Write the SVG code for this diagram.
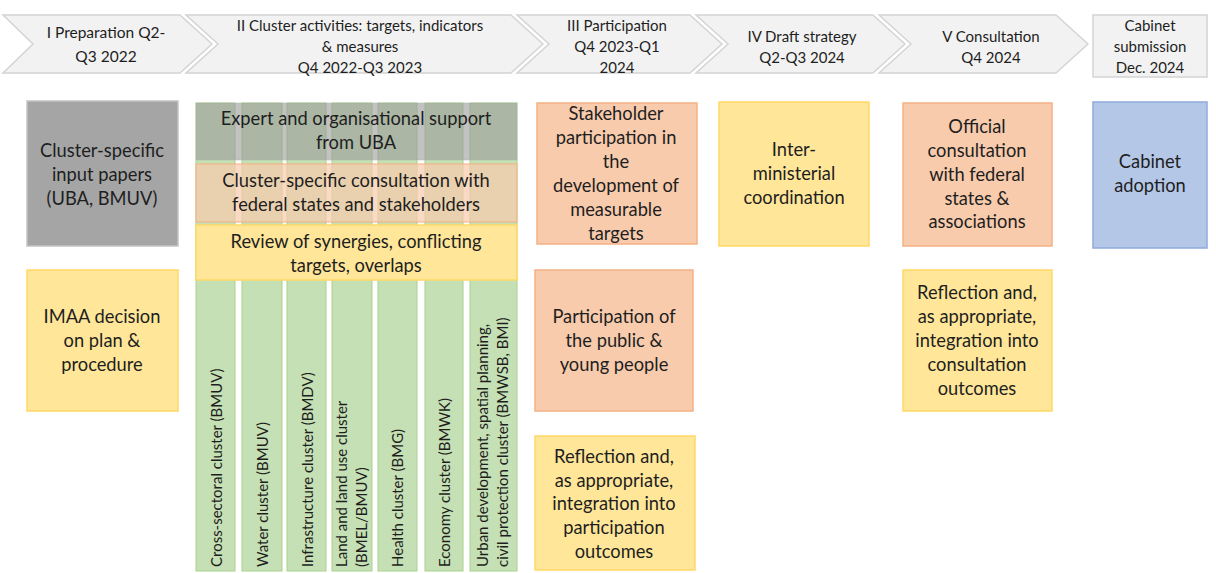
<svg xmlns="http://www.w3.org/2000/svg" width="1216" height="573" viewBox="0 0 1216 573">
  <style>
    text { font-family: Lato, "Liberation Sans", sans-serif; fill: #1e1e1e; }
    .phase { fill: #F2F2F2; stroke: #D4D4D4; stroke-width: 1.5; }
    .ph { font-size: 15px; text-anchor: middle; }
    .bx { font-size: 18.3px; text-anchor: middle; }
    .vt { font-size: 15px; }
    .col { fill: #C5E0B4; stroke: #A9D18E; stroke-width: 1; }
    .grey { fill: #A5A5A5; stroke: #C4C4C4; stroke-width: 1.5; }
    .greyband { fill: #999999; fill-opacity: 0.6; stroke: #B0B8AC; stroke-opacity: 0.5; stroke-width: 1; }
    .peachband { fill: #F8CBAD; fill-opacity: 0.7; stroke: #F4B183; stroke-opacity: 0.7; stroke-width: 1.5; }
    .yellow { fill: #FFE699; stroke: #FFD966; stroke-width: 1.5; }
    .peach { fill: #F8CBAD; stroke: #F4B183; stroke-width: 1.5; }
    .blue { fill: #B4C7E7; stroke: #8FAADC; stroke-width: 1.5; }
  </style>

  <!-- Timeline phases -->
  <g id="phase-1">
    <path class="phase" d="M3,15 L180,15 L212,44 L180,73 L3,73 L33,44 Z"/>
    <text class="ph" x="106" y="38" style="font-size:15.5px">I Preparation Q2-</text>
    <text class="ph" x="106" y="62" style="font-size:15.5px">Q3 2022</text>
  </g>
  <g id="phase-2">
    <path class="phase" d="M186,15 L511,15 L543,44 L511,73 L186,73 L218,44 Z"/>
    <text class="ph" x="360" y="31">II Cluster activities: targets, indicators</text>
    <text class="ph" x="360" y="52">&amp; measures</text>
    <text class="ph" x="360" y="73">Q4 2022-Q3 2023</text>
  </g>
  <g id="phase-3">
    <path class="phase" d="M517,15 L690,15 L722,44 L690,73 L517,73 L549,44 Z"/>
    <text class="ph" x="617" y="31">III Participation</text>
    <text class="ph" x="617" y="52">Q4 2023-Q1</text>
    <text class="ph" x="617" y="73">2024</text>
  </g>
  <g id="phase-4">
    <path class="phase" d="M696,15 L873,15 L905,44 L873,73 L696,73 L728,44 Z"/>
    <text class="ph" x="802" y="42">IV Draft strategy</text>
    <text class="ph" x="802" y="63">Q2-Q3 2024</text>
  </g>
  <g id="phase-5">
    <path class="phase" d="M879,15 L1056,15 L1088,44 L1056,73 L879,73 L911,44 Z"/>
    <text class="ph" x="991" y="42">V Consultation</text>
    <text class="ph" x="991" y="63">Q4 2024</text>
  </g>
  <g id="phase-6">
    <rect class="phase" x="1093" y="15" width="114" height="62"/>
    <text class="ph" x="1150" y="31">Cabinet</text>
    <text class="ph" x="1150" y="52">submission</text>
    <text class="ph" x="1150" y="73">Dec. 2024</text>
  </g>

  <!-- Phase I -->
  <g id="input-papers">
    <rect class="grey" x="27" y="101" width="151" height="145"/>
    <text class="bx" x="102" y="157">Cluster-specific</text>
    <text class="bx" x="102" y="181">input papers</text>
    <text class="bx" x="102" y="205">(UBA, BMUV)</text>
  </g>
  <g id="imaa-decision">
    <rect class="yellow" x="27" y="270" width="151" height="141"/>
    <text class="bx" x="102" y="323">IMAA decision</text>
    <text class="bx" x="102" y="347">on plan &amp;</text>
    <text class="bx" x="102" y="371">procedure</text>
  </g>

  <!-- Phase II: cluster columns -->
  <g id="clusters">
    <g id="cluster-cross-sectoral">
      <rect class="col" x="196" y="103" width="39" height="468"/>
      <text class="vt" x="222" y="567" transform="rotate(-90 222 567)">Cross-sectoral cluster (BMUV)</text>
    </g>
    <g id="cluster-water">
      <rect class="col" x="242" y="103" width="40" height="468"/>
      <text class="vt" x="268" y="567" transform="rotate(-90 268 567)">Water cluster (BMUV)</text>
    </g>
    <g id="cluster-infrastructure">
      <rect class="col" x="287" y="103" width="39" height="468"/>
      <text class="vt" x="313" y="567" transform="rotate(-90 313 567)">Infrastructure cluster (BMDV)</text>
    </g>
    <g id="cluster-land">
      <rect class="col" x="332" y="103" width="40" height="468"/>
      <text class="vt" x="347" y="567" transform="rotate(-90 347 567)">Land and land use cluster</text>
      <text class="vt" x="367" y="567" transform="rotate(-90 367 567)">(BMEL/BMUV)</text>
    </g>
    <g id="cluster-health">
      <rect class="col" x="378" y="103" width="39" height="468"/>
      <text class="vt" x="403" y="567" transform="rotate(-90 403 567)">Health cluster (BMG)</text>
    </g>
    <g id="cluster-economy">
      <rect class="col" x="425" y="103" width="38" height="468"/>
      <text class="vt" x="450" y="567" transform="rotate(-90 450 567)">Economy cluster (BMWK)</text>
    </g>
    <g id="cluster-urban">
      <rect class="col" x="470" y="103" width="47" height="468"/>
      <text class="vt" x="488" y="567" transform="rotate(-90 488 567)">Urban development, spatial planning,</text>
      <text class="vt" x="508" y="567" transform="rotate(-90 508 567)">civil protection cluster (BMWSB, BMI)</text>
    </g>
  </g>

  <!-- Phase II: cross-cutting bands over the columns -->
  <g id="uba-support">
    <rect class="greyband" x="196" y="103" width="321" height="57"/>
    <text class="bx" x="356" y="125">Expert and organisational support</text>
    <text class="bx" x="356" y="149">from UBA</text>
  </g>
  <g id="cluster-consultation">
    <rect class="peachband" x="196" y="164" width="321" height="58"/>
    <text class="bx" x="356" y="187">Cluster-specific consultation with</text>
    <text class="bx" x="356" y="211">federal states and stakeholders</text>
  </g>
  <g id="synergy-review">
    <rect class="yellow" x="196" y="225" width="321" height="55"/>
    <text class="bx" x="356" y="248">Review of synergies, conflicting</text>
    <text class="bx" x="356" y="272">targets, overlaps</text>
  </g>

  <!-- Phase III -->
  <g id="stakeholder-participation">
    <rect class="peach" x="537" y="103" width="160" height="141"/>
    <text class="bx" x="616" y="120">Stakeholder</text>
    <text class="bx" x="616" y="144">participation in</text>
    <text class="bx" x="616" y="168">the</text>
    <text class="bx" x="616" y="192">development of</text>
    <text class="bx" x="616" y="216">measurable</text>
    <text class="bx" x="616" y="240">targets</text>
  </g>
  <g id="public-participation">
    <rect class="peach" x="535" y="270" width="158" height="141"/>
    <text class="bx" x="614" y="323">Participation of</text>
    <text class="bx" x="614" y="347">the public &amp;</text>
    <text class="bx" x="614" y="371">young people</text>
  </g>
  <g id="participation-reflection">
    <rect class="yellow" x="535" y="436" width="160" height="134"/>
    <text class="bx" x="614" y="463">Reflection and,</text>
    <text class="bx" x="614" y="487">as appropriate,</text>
    <text class="bx" x="614" y="510">integration into</text>
    <text class="bx" x="614" y="534">participation</text>
    <text class="bx" x="614" y="558">outcomes</text>
  </g>

  <!-- Phase IV -->
  <g id="interministerial">
    <rect class="yellow" x="719" y="102" width="150" height="144"/>
    <text class="bx" x="794" y="156">Inter-</text>
    <text class="bx" x="794" y="180">ministerial</text>
    <text class="bx" x="794" y="204">coordination</text>
  </g>

  <!-- Phase V -->
  <g id="official-consultation">
    <rect class="peach" x="903" y="103" width="149" height="143"/>
    <text class="bx" x="977" y="133">Official</text>
    <text class="bx" x="977" y="157">consultation</text>
    <text class="bx" x="977" y="181">with federal</text>
    <text class="bx" x="977" y="205">states &amp;</text>
    <text class="bx" x="977" y="228">associations</text>
  </g>
  <g id="consultation-reflection">
    <rect class="yellow" x="903" y="270" width="149" height="141"/>
    <text class="bx" x="977" y="299">Reflection and,</text>
    <text class="bx" x="977" y="323">as appropriate,</text>
    <text class="bx" x="977" y="347">integration into</text>
    <text class="bx" x="977" y="371">consultation</text>
    <text class="bx" x="977" y="395">outcomes</text>
  </g>

  <!-- Cabinet -->
  <g id="cabinet-adoption">
    <rect class="blue" x="1093" y="102" width="114" height="146"/>
    <text class="bx" x="1150" y="168">Cabinet</text>
    <text class="bx" x="1150" y="192">adoption</text>
  </g>

  <!-- No connectors are drawn between these nodes -->
  <g id="connectors"/>
</svg>
